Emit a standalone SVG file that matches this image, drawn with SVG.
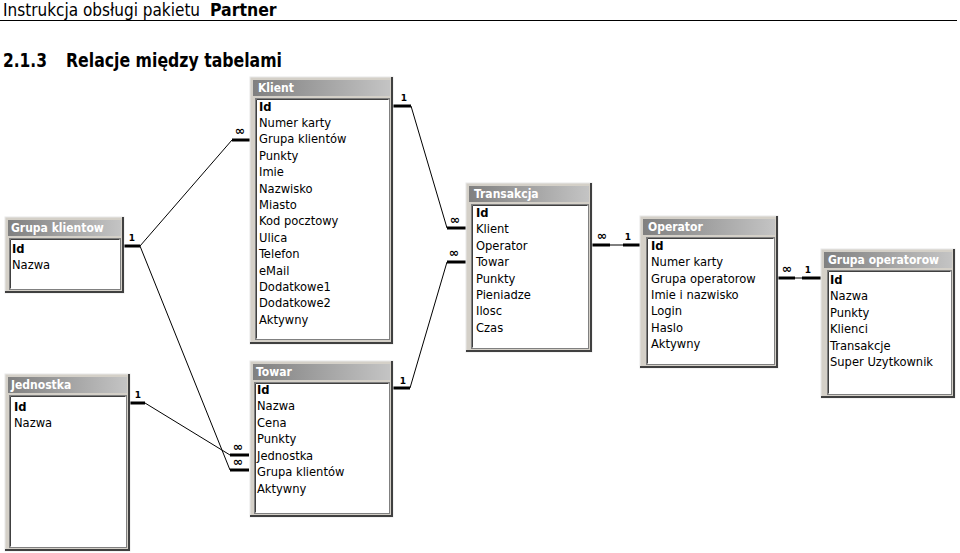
<svg xmlns="http://www.w3.org/2000/svg" width="960" height="553" viewBox="0 0 960 553">
<defs>
<linearGradient id="tg" x1="0" y1="0" x2="1" y2="0">
<stop offset="0" stop-color="#808080"/>
<stop offset="1" stop-color="#c4c4c4"/>
</linearGradient>
</defs>
<style>
.hdr{font-family:"DejaVu Sans Condensed","DejaVu Sans","Liberation Sans",sans-serif;fill:#000}
.frame{fill:#d4d0c8;stroke:#e8e8e8;stroke-width:1}
.shadow{fill:none;stroke:#404040;stroke-width:2}
.title{fill:url(#tg)}
.tt{font-family:"DejaVu Sans Condensed","Liberation Sans",sans-serif;font-size:12px;font-weight:bold;fill:#fff}
.list{fill:#fff;stroke:#808080;stroke-width:1}
.inset{fill:none;stroke:#404040;stroke-width:1}
.row{font-family:"DejaVu Sans Condensed","Liberation Sans",sans-serif;font-size:12.8px;fill:#000}
.pk{font-weight:bold}
.thin{stroke:#000;stroke-width:1;fill:none}
.thick{stroke:#000;stroke-width:3;fill:none}
.lbl{font-family:"DejaVu Sans","Liberation Sans",sans-serif;font-size:9px;font-weight:bold;fill:#000;text-anchor:middle}
.inf{font-family:"DejaVu Sans","Liberation Sans",sans-serif;font-size:12.5px;font-weight:bold;fill:#000;text-anchor:middle}
</style>
<rect width="960" height="553" fill="#fff"/>
<g id="header">
<text class="hdr" x="3" y="15.5" font-size="17">Instrukcja obsługi pakietu</text>
<text class="hdr" x="210" y="15.5" font-size="17.5" font-weight="bold">Partner</text>
<line x1="0" y1="20.5" x2="957" y2="20.5" stroke="#000" stroke-width="1.2"/>
<text class="hdr" x="3" y="67" font-size="20" font-weight="bold" textLength="44" lengthAdjust="spacingAndGlyphs">2.1.3</text>
<text class="hdr" x="66" y="67" font-size="20" font-weight="bold" textLength="216" lengthAdjust="spacingAndGlyphs">Relacje między tabelami</text>
</g>
<g id="connectors">
<line class="thick" x1="124" y1="246" x2="140" y2="246"/>
<line class="thin" x1="140" y1="246" x2="232" y2="140"/>
<line class="thick" x1="232" y1="140" x2="250" y2="140"/>
<text class="lbl" x="132" y="241">1</text>
<text class="inf" x="240" y="135">∞</text>
<line class="thin" x1="140" y1="246" x2="230" y2="470"/>
<line class="thick" x1="230" y1="470" x2="249" y2="470"/>
<text class="inf" x="238" y="466">∞</text>
<line class="thick" x1="130" y1="403" x2="145" y2="403"/>
<line class="thin" x1="145" y1="403" x2="230" y2="455"/>
<line class="thick" x1="230" y1="455" x2="249" y2="455"/>
<text class="lbl" x="138" y="398">1</text>
<text class="inf" x="238" y="451">∞</text>
<line class="thick" x1="393" y1="106" x2="411" y2="106"/>
<line class="thin" x1="411" y1="106" x2="447" y2="228"/>
<line class="thick" x1="447" y1="228" x2="466" y2="228"/>
<text class="lbl" x="404" y="101">1</text>
<text class="inf" x="455" y="224">∞</text>
<line class="thick" x1="393" y1="388" x2="410" y2="388"/>
<line class="thin" x1="410" y1="388" x2="447" y2="262"/>
<line class="thick" x1="447" y1="262" x2="466" y2="262"/>
<text class="lbl" x="403" y="384">1</text>
<text class="inf" x="454" y="257">∞</text>
<line class="thick" x1="592" y1="245" x2="610" y2="245"/>
<line class="thin" x1="610" y1="245" x2="623" y2="245"/>
<line class="thick" x1="623" y1="245" x2="640" y2="245"/>
<text class="inf" x="602" y="240">∞</text>
<text class="lbl" x="628" y="240">1</text>
<line class="thick" x1="778" y1="278" x2="795" y2="278"/>
<line class="thin" x1="795" y1="278" x2="802" y2="278"/>
<line class="thick" x1="802" y1="278" x2="821" y2="278"/>
<text class="inf" x="787" y="273">∞</text>
<text class="lbl" x="808" y="273">1</text>
</g>
<g id="klient">
<rect class="frame" x="250" y="77" width="143" height="267"/>
<path class="shadow" d="M392,77 V343 H250"/>
<rect class="title" x="253" y="80" width="137" height="16"/>
<text class="tt" x="258" y="92">Klient</text>
<rect class="list" x="255.5" y="98.5" width="134" height="241"/>
<path class="inset" d="M256.5,338.5 V99.5 H388.5"/>
<text class="row pk" x="259" y="110.5">Id</text>
<text class="row" x="259" y="126.9">Numer karty</text>
<text class="row" x="259" y="143.3">Grupa klientów</text>
<text class="row" x="259" y="159.7">Punkty</text>
<text class="row" x="259" y="176.1">Imie</text>
<text class="row" x="259" y="192.5">Nazwisko</text>
<text class="row" x="259" y="208.9">Miasto</text>
<text class="row" x="259" y="225.3">Kod pocztowy</text>
<text class="row" x="259" y="241.7">Ulica</text>
<text class="row" x="259" y="258.1">Telefon</text>
<text class="row" x="259" y="274.5">eMail</text>
<text class="row" x="259" y="290.9">Dodatkowe1</text>
<text class="row" x="259" y="307.3">Dodatkowe2</text>
<text class="row" x="259" y="323.7">Aktywny</text>
</g>
<g id="grupa-klientow">
<rect class="frame" x="5" y="217" width="119" height="76"/>
<path class="shadow" d="M123,217 V292 H5"/>
<rect class="title" x="8" y="220" width="113" height="16"/>
<text class="tt" x="11" y="232">Grupa klientow</text>
<rect class="list" x="9.5" y="238.5" width="111" height="51"/>
<path class="inset" d="M10.5,288.5 V239.5 H119.5"/>
<text class="row pk" x="12" y="253">Id</text>
<text class="row" x="12" y="269">Nazwa</text>
</g>
<g id="jednostka">
<rect class="frame" x="5" y="374" width="125" height="177"/>
<path class="shadow" d="M129,374 V550 H5"/>
<rect class="title" x="8" y="377" width="119" height="16"/>
<text class="tt" x="11" y="389">Jednostka</text>
<rect class="list" x="9.5" y="395.5" width="117" height="152"/>
<path class="inset" d="M10.5,546.5 V396.5 H125.5"/>
<text class="row pk" x="14" y="410.5">Id</text>
<text class="row" x="14" y="427">Nazwa</text>
</g>
<g id="towar">
<rect class="frame" x="250" y="361" width="143" height="156"/>
<path class="shadow" d="M392,361 V516 H250"/>
<rect class="title" x="253" y="364" width="137" height="16"/>
<text class="tt" x="256" y="376">Towar</text>
<rect class="list" x="254.5" y="382.5" width="135" height="131"/>
<path class="inset" d="M255.5,512.5 V383.5 H388.5"/>
<text class="row pk" x="257" y="394">Id</text>
<text class="row" x="257" y="410">Nazwa</text>
<text class="row" x="257" y="426.5">Cena</text>
<text class="row" x="257" y="443">Punkty</text>
<text class="row" x="257" y="459.5">Jednostka</text>
<text class="row" x="257" y="476">Grupa klientów</text>
<text class="row" x="257" y="492.5">Aktywny</text>
</g>
<g id="transakcja">
<rect class="frame" x="466" y="183" width="126" height="169"/>
<path class="shadow" d="M591,183 V351 H466"/>
<rect class="title" x="469" y="186" width="120" height="16"/>
<text class="tt" x="474" y="198">Transakcja</text>
<rect class="list" x="471.5" y="204.5" width="117" height="144"/>
<path class="inset" d="M472.5,347.5 V205.5 H587.5"/>
<text class="row pk" x="476" y="217">Id</text>
<text class="row" x="476" y="233.4">Klient</text>
<text class="row" x="476" y="249.8">Operator</text>
<text class="row" x="476" y="266.2">Towar</text>
<text class="row" x="476" y="282.6">Punkty</text>
<text class="row" x="476" y="299">Pieniadze</text>
<text class="row" x="476" y="315.4">Ilosc</text>
<text class="row" x="476" y="331.8">Czas</text>
</g>
<g id="operator">
<rect class="frame" x="640" y="216" width="138" height="152"/>
<path class="shadow" d="M777,216 V367 H640"/>
<rect class="title" x="643" y="219" width="132" height="16"/>
<text class="tt" x="648" y="231">Operator</text>
<rect class="list" x="646.5" y="237.5" width="128" height="127"/>
<path class="inset" d="M647.5,363.5 V238.5 H773.5"/>
<text class="row pk" x="651" y="250">Id</text>
<text class="row" x="651" y="266.3">Numer karty</text>
<text class="row" x="651" y="282.6">Grupa operatorow</text>
<text class="row" x="651" y="298.9">Imie i nazwisko</text>
<text class="row" x="651" y="315.2">Login</text>
<text class="row" x="651" y="331.5">Haslo</text>
<text class="row" x="651" y="347.8">Aktywny</text>
</g>
<g id="grupa-operatorow">
<rect class="frame" x="821" y="249" width="134" height="149"/>
<path class="shadow" d="M954,249 V397 H821"/>
<rect class="title" x="824" y="252" width="128" height="16"/>
<text class="tt" x="828" y="264">Grupa operatorow</text>
<rect class="list" x="827.5" y="270.5" width="124" height="124"/>
<path class="inset" d="M828.5,393.5 V271.5 H950.5"/>
<text class="row pk" x="830" y="284">Id</text>
<text class="row" x="830" y="300.4">Nazwa</text>
<text class="row" x="830" y="316.8">Punkty</text>
<text class="row" x="830" y="333.2">Klienci</text>
<text class="row" x="830" y="349.6">Transakcje</text>
<text class="row" x="830" y="366">Super Uzytkownik</text>
</g>
</svg>
